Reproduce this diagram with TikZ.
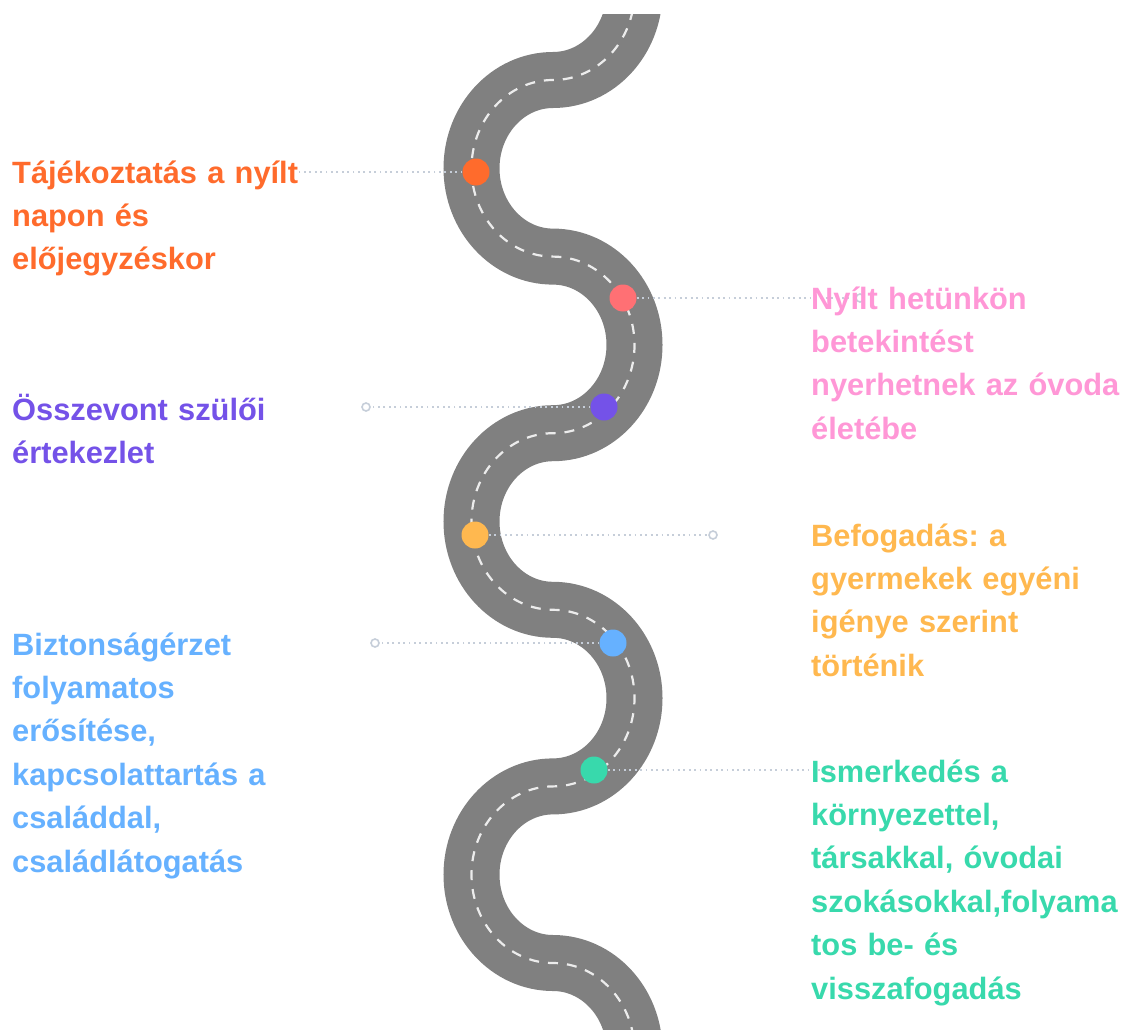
\documentclass[tikz,border=0pt]{standalone}
\usepackage{fontspec}
\setmainfont{Liberation Sans}
\frenchspacing

\definecolor{roadgray}{HTML}{808080}
\definecolor{lanewhite}{HTML}{ECECEC}
\definecolor{guidegray}{HTML}{C6CED9}
\definecolor{cOrange}{HTML}{FF6B2C}
\definecolor{cCoral}{HTML}{FF7074}
\definecolor{cPink}{HTML}{FF97D6}
\definecolor{cPurple}{HTML}{7452E8}
\definecolor{cYellow}{HTML}{FFB84F}
\definecolor{cBlue}{HTML}{66B1FF}
\definecolor{cGreen}{HTML}{38D9AC}

\begin{document}
\begin{tikzpicture}[x=1pt, y=-1pt,
		stop/.style={circle, inner sep=0pt, minimum size=27pt},
		ring/.style={circle, draw=guidegray, fill=white, line width=1.6pt, inner sep=0pt, minimum size=8pt},
		guide/.style={draw=guidegray, line width=1.8pt, dash pattern=on 1.8pt off 3.6pt},
		txt/.style={font=\bfseries\fontsize{30.8}{43.4}\selectfont, text width=420pt, align=left, inner sep=0pt, anchor=base west}]
		\def\midX{553} % centre of the road
		\def\rx{81.5} % sideways reach of a bend
		\def\ry{88.3} % half height of a bend
		
		\useasboundingbox (0,0) rectangle (1121,1030);
		
		% Draw the road with its lane marks
		\begin{scope}
			\clip (0,15) rectangle (1121,1030);
			\draw[roadgray, line width=56pt,
				postaction={draw=lanewhite, line width=2.2pt, dash pattern=on 10pt off 9pt}]
				(\midX,-96.6) arc[start angle=-90, end angle=90, x radius=\rx, y radius=\ry]
				\foreach \k in {1,2,3} {
					arc[start angle=270, end angle=90, x radius=\rx, y radius=\ry]
					arc[start angle=-90, end angle=90, x radius=\rx, y radius=\ry]
				};
		\end{scope}
		
		% Stops along the road
		\node[stop, fill=cOrange] (stop1) at (476,172) {};
		\node[stop, fill=cCoral] (stop2) at (623,298) {};
		\node[stop, fill=cPurple] (stop3) at (604,407) {};
		\node[stop, fill=cYellow] (stop4) at (475,535) {};
		\node[stop, fill=cBlue] (stop5) at (613,643) {};
		\node[stop, fill=cGreen] (stop6) at (594,770) {};
		
		% Ends of the guide lines
		\coordinate (ring1) at (298,172);
		\node[ring] (ring2) at (860,298) {};
		\node[ring] (ring3) at (366,407) {};
		\node[ring] (ring4) at (713,535) {};
		\node[ring] (ring5) at (375,643) {};
		\node[ring] (ring6) at (828,770) {};
		
		\foreach \i in {1,...,6} {
			\draw[guide] (stop\i) -- (ring\i);
		}
		
		% Labels
		\node[txt, text=cOrange] (text1) at (12,183) {Tájékoztatás a nyílt\\napon és\\előjegyzéskor};
		\node[txt, text=cPink] (text2) at (811,309) {Nyílt hetünkön\\betekintést\\nyerhetnek az óvoda\\életébe};
		\node[txt, text=cPurple] (text3) at (12,420) {Összevont szülői\\értekezlet};
		\node[txt, text=cYellow] (text4) at (811,546) {Befogadás: a\\gyermekek egyéni\\igénye szerint\\történik};
		\node[txt, text=cBlue] (text5) at (12,655) {Biztonságérzet\\folyamatos\\erősítése,\\kapcsolattartás a\\családdal,\\családlátogatás};
		\node[txt, text=cGreen] (text6) at (811,782) {Ismerkedés a\\környezettel,\\társakkal, óvodai\\szokásokkal,folyama\\tos be- és\\visszafogadás};
	\end{tikzpicture}
\end{document}
